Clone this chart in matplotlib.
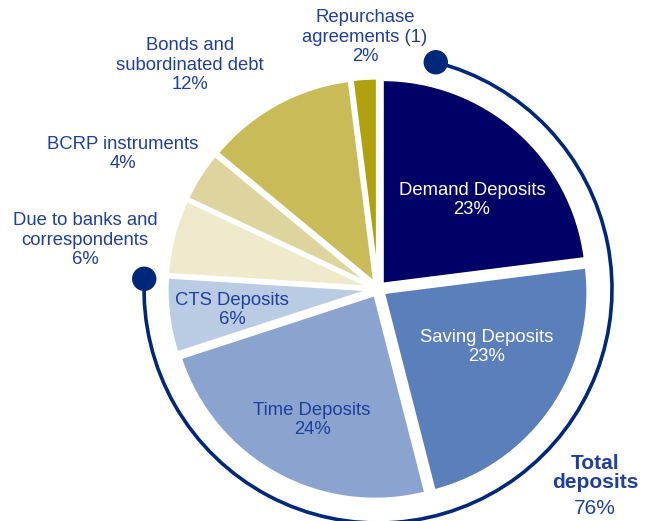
import numpy as np
import matplotlib.pyplot as plt
from matplotlib.patches import Arc, Circle

plt.rcParams['font.family'] = ['Liberation Sans', 'DejaVu Sans']

# Funding structure
categories = ["Demand Deposits", "Saving Deposits", "Time Deposits", "CTS Deposits",
              "Due to banks and\ncorrespondents", "BCRP instruments",
              "Bonds and\nsubordinated debt", "Repurchase\nagreements (1)"]
shares = [23, 23, 24, 6, 6, 4, 12, 2]
colors = ['#000066', '#5A7FBB', '#8AA4CF', '#BACBE4', '#EEEACB', '#DDD49E', '#C9BB58', '#B2A10F']
total_deposits = 76

text_blue = '#1F3F9F'
navy = '#00287A'

# pixel-based layout: pie center and radius in pixels
cx, cy, R = 378, 289, 205
W, H = 647, 521

fig = plt.figure(figsize=(W / 100, H / 100), dpi=100)
ax = fig.add_axes([0, 0, 1, 1])

wedges, _ = ax.pie(shares, colors=colors, startangle=90, counterclock=False,
                   radius=1.0, explode=[0.03] * len(shares),
                   wedgeprops=dict(edgecolor='white', linewidth=2.5))

ax.set_xlim(-cx / R, (W - cx) / R)
ax.set_ylim(-(H - cy) / R, cy / R)
ax.set_aspect('equal')
ax.axis('off')


def pos(px, py):
    return (px - cx) / R, (cy - py) / R


# labels (pixel centers)
label_pos = [(472, 200), (487, 347), (312, 420), (232, 310),
             (85, 240), (123, 154), (190, 65), (365, 37)]
for i, (name, val, (px, py)) in enumerate(zip(categories, shares, label_pos)):
    x, y = pos(px, py)
    col = 'white' if i < 2 else text_blue
    ax.text(x, y, f"{name}\n{val}%", ha='center', va='center', color=col,
            fontsize=13.3, linespacing=1.2)

# arc around the deposits
arc_r = 234 / R
start_deg, end_deg = 75.7, -182.5
ax.add_patch(Arc((0, 0), 2 * arc_r, 2 * arc_r, theta1=end_deg, theta2=start_deg,
                 color=navy, linewidth=2.6))
for a in (start_deg, end_deg):
    t = np.deg2rad(a)
    ax.add_patch(Circle((arc_r * np.cos(t), arc_r * np.sin(t)), 11.5 / R,
                        color=navy, zorder=5))

x, y = pos(595, 473)
ax.text(x, y, "Total\ndeposits", ha='center', va='center', color=text_blue,
        fontsize=15, fontweight='bold', linespacing=1.05)
x, y = pos(595, 509)
ax.text(x, y, f"{total_deposits}%", ha='center', va='center', color=text_blue,
        fontsize=15)

fig.savefig('out.png', dpi=100)
